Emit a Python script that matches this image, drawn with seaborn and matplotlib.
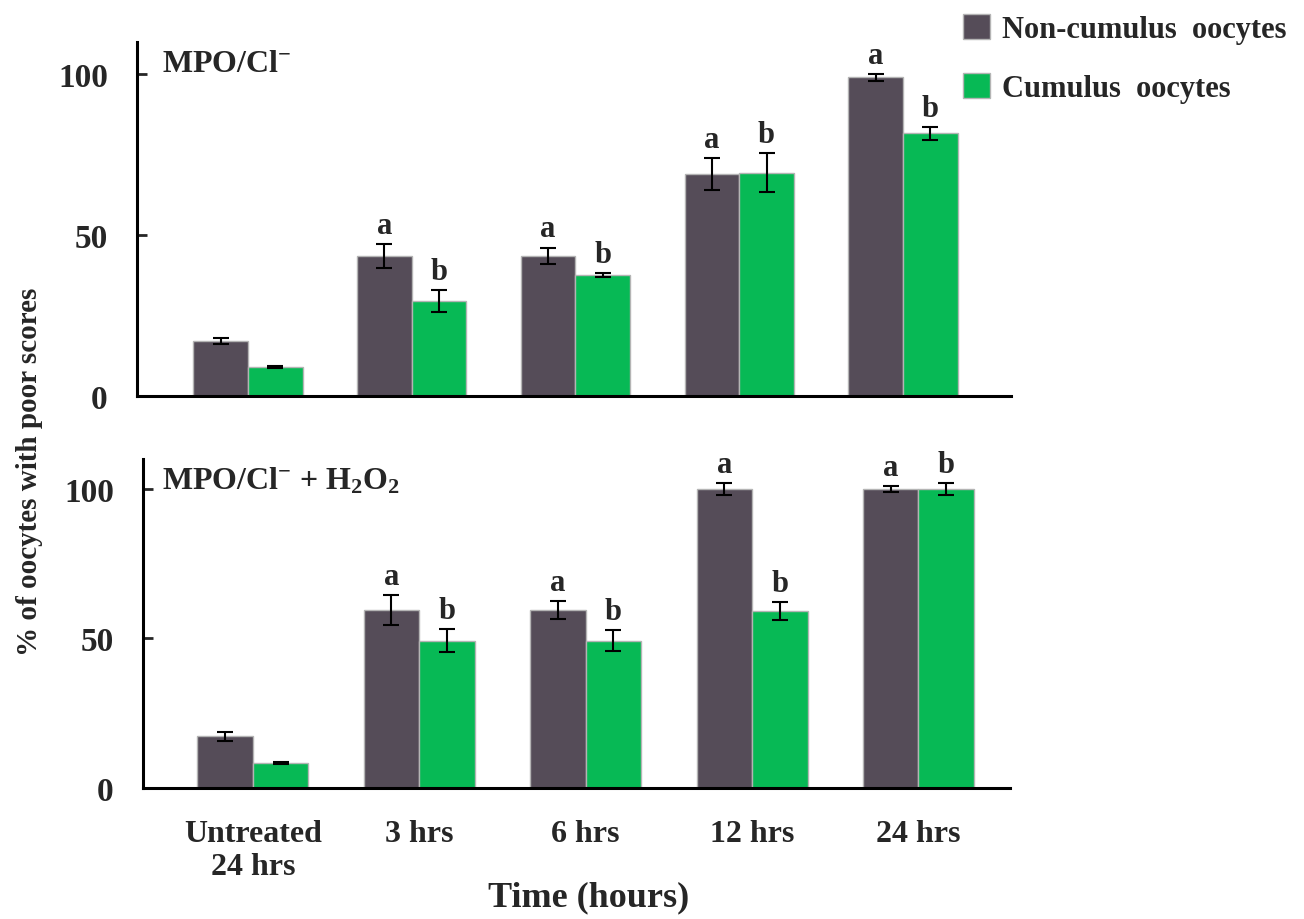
import matplotlib
matplotlib.use("Agg")
import matplotlib.pyplot as plt
import numpy as np
import pandas as pd
import seaborn as sns

# ---------------- data ----------------
categories = ["Untreated\n24 hrs", "3 hrs", "6 hrs", "12 hrs", "24 hrs"]
series = ["Non-cumulus  oocytes", "Cumulus  oocytes"]

top_non = [17.1, 43.5, 43.5, 69.0, 99.0]
top_non_err = [1.0, 3.7, 2.6, 5.0, 1.0]
top_cum = [9.1, 29.4, 37.6, 69.4, 81.6]
top_cum_err = [0.3, 3.4, 0.6, 6.0, 2.0]

bot_non = [17.3, 59.5, 59.5, 100.0, 100.0]
bot_non_err = [1.5, 5.1, 3.1, 2.0, 1.0]
bot_cum = [8.3, 49.3, 49.3, 59.1, 100.0]
bot_cum_err = [0.4, 3.8, 3.4, 3.0, 2.0]

letters_non = ["", "a", "a", "a", "a"]
letters_cum = ["", "b", "b", "b", "b"]

yticks = [0, 50, 100]
title_top = r"MPO/Cl$^{-}$"
title_bot = r"MPO/Cl$^{-}$ + H$_{2}$O$_{2}$"
ylabel = "% of oocytes with poor scores"
xlabel = "Time (hours)"

colors = ["#554c58", "#07b955"]

# ---------------- style ----------------
sns.set_theme(style="white")
plt.rcParams["font.family"] = ["Liberation Serif", "DejaVu Serif"]
plt.rcParams["font.weight"] = "bold"
plt.rcParams["mathtext.fontset"] = "custom"
plt.rcParams["mathtext.rm"] = "Liberation Serif:bold"
plt.rcParams["mathtext.bf"] = "Liberation Serif:bold"
plt.rcParams["mathtext.it"] = "Liberation Serif:bold"
plt.rcParams["mathtext.default"] = "rm"


def make_df(non, cum):
    return pd.DataFrame({
        "time": categories * 2,
        "group": [series[0]] * len(categories) + [series[1]] * len(categories),
        "value": list(non) + list(cum),
    })


fig = plt.figure(figsize=(13.04, 9.2), dpi=100)
ax_top = fig.add_axes([137 / 1304, 1 - 397 / 920, 874 / 1304, 354 / 920])
ax_bot = fig.add_axes([143 / 1304, 1 - 789 / 920, 867 / 1304, 329 / 920])

panels = [
    (ax_top, top_non, top_non_err, top_cum, top_cum_err, (-0.678, 4.66), title_top,
     (25 / 874, (397 - 72) / 354), True),
    (ax_bot, bot_non, bot_non_err, bot_cum, bot_cum_err, (-0.66, 4.55), title_bot,
     (19 / 867, (789 - 490) / 329), False),
]

for ax, non, non_e, cum, cum_e, xlim, title, tpos, show_leg in panels:
    df = make_df(non, cum)
    sns.barplot(data=df, x="time", y="value", hue="group", hue_order=series,
                order=categories, palette=colors, width=0.667, errorbar=None,
                edgecolor="#b4b4b4", linewidth=1.0, ax=ax, legend=show_leg,
                saturation=1)
    for cont, errs, letters in zip(ax.containers[:2], [non_e, cum_e],
                                   [letters_non, letters_cum]):
        xs = [b.get_x() + b.get_width() / 2 for b in cont]
        hs = [b.get_height() for b in cont]
        ax.errorbar(xs, hs, yerr=errs, fmt="none", ecolor="black",
                    elinewidth=1.5, capsize=6, capthick=1.5, zorder=5)
        for x, h, e, lab in zip(xs, hs, errs, letters):
            if lab:
                ax.annotate(lab, (x, h + e), xytext=(0, 3),
                            textcoords="offset points", ha="center",
                            va="bottom", fontsize=22, fontweight="bold")
    ax.set_xlim(*xlim)
    ax.set_ylim(0, 110)
    ax.set_yticks(yticks)
    ax.set_xlabel("")
    ax.set_ylabel("")
    sns.despine(ax=ax)
    for s in ["left", "bottom"]:
        ax.spines[s].set_linewidth(2.2)
        ax.spines[s].set_color("black")
    ax.tick_params(axis="y", direction="in", length=7, width=2, pad=21,
                   labelsize=24, left=True)
    ax.tick_params(axis="x", length=0, pad=22, labelsize=23)
    for lab in ax.get_yticklabels() + ax.get_xticklabels():
        lab.set_fontweight("bold")
    ax.text(tpos[0], tpos[1], title, transform=ax.transAxes, fontsize=23,
            fontweight="bold", ha="left", va="baseline")

ax_top.set_xticklabels([])

sns.move_legend(ax_top, loc="upper left", bbox_to_anchor=(963 / 1304, 1 - 15 / 920),
                bbox_transform=fig.transFigure, title=None, frameon=False,
                fontsize=22, handlelength=0.88, handleheight=0.88,
                handletextpad=0.4, labelspacing=0.95, borderpad=0,
                borderaxespad=0)
for t in ax_top.get_legend().get_texts():
    t.set_fontweight("bold")

fig.text(30 / 1304, 1 - 472 / 920, ylabel, rotation=90, ha="center",
         va="center", fontsize=21, fontweight="bold")
fig.text(589 / 1304, 1 - 898 / 920, xlabel, ha="center", va="center",
         fontsize=26, fontweight="bold")

fig.savefig("out.png", dpi=100)
